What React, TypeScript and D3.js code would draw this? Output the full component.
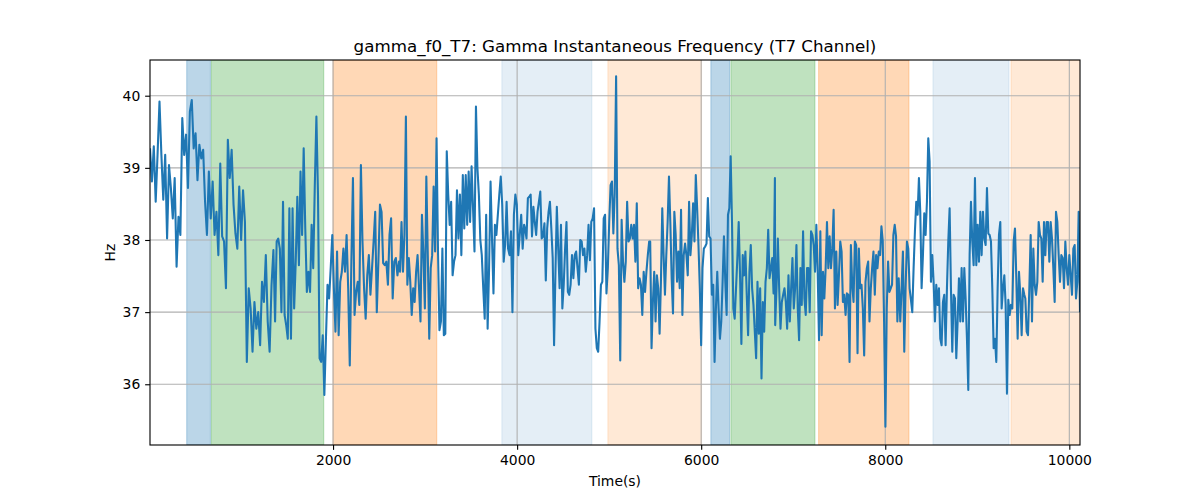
import { useEffect, useRef } from 'react';
import * as d3 from 'd3';

const TITLE = 'gamma_f0_T7: Gamma Instantaneous Frequency (T7 Channel)';
const X_LABEL = 'Time(s)';
const Y_LABEL = 'Hz';
const xTicks = [2000, 4000, 6000, 8000, 10000];
const yTicks = [36, 37, 38, 39, 40];
const xDomain: [number, number] = [11, 10116];
const yDomain: [number, number] = [35.158, 40.495];

// shaded event windows
const spanStart = [410, 678, 2000, 3834, 4986, 6105, 6323, 7276, 8518, 9366];
const spanEnd = [667, 1899, 3127, 4812, 6004, 6309, 7236, 8258, 9345, 10130];
const spanColor = ['#1f77b4', '#2ca02c', '#ff7f0e', '#1f77b4', '#ff7f0e', '#1f77b4', '#2ca02c', '#ff7f0e', '#1f77b4', '#ff7f0e'];
const spanAlpha = [0.3, 0.3, 0.3, 0.12, 0.17, 0.3, 0.3, 0.3, 0.12, 0.17];

// the trace, read piece by piece (time range of each piece + its samples)
const segStart = [11, 1370, 2728, 4087, 5446, 6804, 8163, 9522];
const segEnd = [1352, 2717, 4076, 5435, 6801, 8146, 9511, 10116];

const seg1 = [39.27, 38.81, 39.30, 38.53, 39.20, 39.92, 39.18, 38.56, 39.18, 38.02, 39.04, 38.72, 38.30, 38.86, 37.63, 38.32, 38.07, 39.69, 39.18, 39.46, 38.72, 39.78, 39.94, 39.27, 39.48, 38.83, 39.32, 39.13, 39.25, 38.53, 38.07, 38.95, 38.30, 38.81, 38.07, 38.39, 37.79, 39.06, 38.05, 37.98, 37.33, 39.39, 38.86, 39.25, 38.49, 38.09, 37.88, 38.74, 38.00, 38.69, 38.25, 36.31, 37.33, 37.05, 36.45, 37.14, 36.77, 37.00, 36.54, 37.42, 37.14, 37.79, 36.87, 36.45, 37.37, 37.86];
const seg2 = [36.87, 37.98, 38.02, 37.88, 37.00, 38.53, 36.96, 36.82, 36.63, 38.44, 36.63, 38.44, 37.05, 37.70, 38.60, 37.65, 38.95, 38.07, 39.27, 38.16, 37.28, 37.56, 37.28, 38.21, 37.61, 38.76, 39.71, 38.63, 36.36, 36.31, 36.68, 35.85, 36.63, 37.38, 37.19, 37.61, 38.07, 37.33, 36.73, 37.84, 36.68, 37.42, 37.56, 37.88, 37.56, 38.07, 37.33, 36.26, 37.70, 38.86, 36.96, 37.28, 37.42, 37.10, 39.04, 37.98, 37.33, 36.91, 37.51, 37.79, 37.24, 37.61, 37.98, 38.39, 37.00, 37.70, 38.49, 38.39, 37.68, 37.65, 37.70, 37.38, 38.07, 38.30, 37.19, 37.70, 37.75, 37.51, 37.70];
const seg3 = [37.56, 38.25, 37.56, 38.07, 39.71, 37.38, 37.75, 37.42, 36.96, 37.33, 37.14, 37.56, 37.79, 37.33, 36.87, 38.35, 37.79, 37.05, 38.88, 37.79, 36.63, 37.61, 37.79, 38.74, 37.84, 39.41, 37.84, 36.75, 36.87, 37.88, 36.68, 36.70, 39.23, 38.63, 38.21, 38.53, 37.51, 37.70, 37.79, 38.69, 38.02, 38.63, 37.79, 38.90, 38.16, 38.90, 38.21, 38.95, 38.25, 39.02, 38.44, 37.84, 39.85, 39.00, 38.63, 38.00, 37.79, 37.33, 36.91, 38.35, 36.77, 37.61, 38.81, 38.02, 37.26, 38.21, 38.07, 38.35, 38.63, 38.88, 38.49, 37.70, 37.94, 38.53, 37.88, 37.79, 38.12, 37.00, 38.35, 38.63, 38.49, 37.79, 38.07, 38.35, 37.88, 38.21];
const seg4 = [38.16, 38.02, 38.58, 38.60, 38.63, 38.05, 38.46, 38.25, 38.07, 38.39, 38.53, 38.67, 38.02, 38.05, 38.23, 37.44, 38.16, 38.39, 38.53, 38.16, 37.75, 36.54, 37.56, 38.46, 37.88, 37.33, 38.21, 37.05, 37.38, 37.88, 38.25, 37.28, 37.24, 37.38, 37.79, 37.47, 37.79, 37.84, 37.61, 37.38, 38.00, 37.98, 37.79, 37.88, 37.56, 37.79, 38.21, 37.72, 38.25, 38.30, 38.44, 36.77, 36.50, 36.45, 36.87, 37.38, 37.42, 38.30, 38.35, 37.26, 37.61, 38.25, 38.76, 38.81, 38.09, 38.65, 40.27, 37.88, 37.65, 36.33, 38.28, 37.70, 37.42, 37.70, 38.53, 37.98, 38.02, 38.21, 38.02, 38.21, 37.70, 38.51, 37.33, 37.47, 37.38, 36.96, 37.56, 37.28, 37.56, 37.79, 37.98];
const seg5 = [37.98, 36.50, 37.14, 37.56, 36.87, 37.51, 37.33, 36.70, 37.42, 38.44, 37.79, 37.24, 37.79, 38.25, 38.88, 38.25, 37.47, 36.98, 38.39, 38.07, 37.42, 37.84, 37.33, 38.42, 36.96, 37.79, 37.95, 37.79, 37.51, 38.53, 37.79, 38.05, 38.51, 37.98, 38.90, 38.44, 37.93, 37.33, 36.54, 37.61, 37.88, 37.91, 37.95, 38.58, 38.05, 38.02, 37.24, 37.38, 36.31, 37.05, 37.56, 37.05, 36.63, 36.87, 37.42, 38.05, 37.42, 36.96, 38.35, 38.44, 39.16, 38.25, 37.05, 36.91, 37.33, 37.75, 38.25, 37.51, 36.56, 37.79, 37.51, 37.84, 37.24, 36.68, 37.56, 37.93, 37.33, 37.10, 36.73, 36.36, 37.42, 36.70, 37.33, 36.08, 37.14, 36.73, 37.42, 37.61, 38.14, 37.47, 37.61, 37.75, 37.26, 38.86];
const seg6 = [36.82, 37.33, 38.02, 37.33, 36.77, 37.14, 37.24, 37.33, 37.14, 36.77, 37.51, 36.87, 37.33, 37.75, 37.05, 37.33, 37.93, 37.05, 36.61, 37.61, 37.10, 38.12, 37.19, 36.96, 37.61, 37.61, 37.00, 38.12, 38.07, 37.93, 37.56, 38.21, 37.56, 36.61, 38.12, 36.68, 37.56, 37.19, 37.61, 38.25, 37.61, 38.05, 37.61, 37.88, 38.42, 37.05, 37.84, 37.10, 37.51, 37.98, 37.84, 37.14, 37.24, 36.96, 37.26, 37.24, 36.31, 37.93, 37.38, 37.14, 37.98, 37.93, 36.43, 37.88, 37.33, 37.38, 37.05, 36.40, 37.42, 37.61, 37.70, 36.87, 37.33, 37.61, 37.84, 37.24, 37.79, 37.61, 37.84, 37.79, 38.19, 37.98, 36.87, 35.41, 37.05, 37.70, 37.28, 37.33, 37.38, 38.07, 38.21, 38.05, 36.87, 37.47];
const seg7 = [36.87, 37.33, 37.84, 36.45, 37.33, 37.98, 37.88, 37.33, 37.17, 37.00, 37.61, 38.12, 38.53, 38.35, 38.86, 38.39, 37.33, 37.79, 38.37, 38.07, 38.53, 39.41, 39.09, 37.42, 37.79, 37.42, 36.87, 37.38, 37.10, 37.33, 36.63, 36.54, 37.14, 37.24, 36.54, 37.33, 37.98, 38.44, 37.33, 36.45, 37.24, 37.19, 36.36, 36.87, 37.47, 36.87, 37.61, 36.87, 37.61, 37.19, 36.63, 35.92, 37.79, 38.53, 37.98, 37.65, 38.86, 37.65, 38.21, 37.70, 38.39, 37.79, 38.39, 38.02, 37.93, 38.72, 38.09, 38.07, 37.98, 37.33, 36.50, 36.63, 36.31, 37.33, 38.07, 38.25, 37.05, 37.33, 37.51, 37.10, 35.87, 37.17, 36.96, 37.10, 37.05, 37.98, 38.16, 37.47, 36.63, 37.56, 37.24, 36.68, 37.33, 37.24];
const seg8 = [37.19, 36.73, 36.68, 37.33, 38.07, 36.87, 37.88, 37.38, 37.24, 37.42, 38.25, 38.07, 38.02, 37.42, 38.25, 37.79, 38.25, 38.25, 37.70, 38.25, 38.02, 37.61, 37.14, 38.39, 38.25, 37.79, 37.42, 37.79, 37.75, 37.33, 37.98, 37.61, 37.38, 37.79, 37.51, 37.24, 37.88, 37.93, 37.19, 37.42, 38.39, 37.00];
const segments = [seg1, seg2, seg3, seg4, seg5, seg6, seg7, seg8];

const W = 1200;
const H = 500;
const margin = { top: 60, right: 120, bottom: 55, left: 150 };
const FONT = 'DejaVu Sans, sans-serif';
const PT = 100 / 72; // matplotlib points -> px at 100 dpi

export default function App() {
    const svgRef = useRef<SVGSVGElement>(null);

    useEffect(() => {
        if (!svgRef.current) return;
        const svg = d3.select(svgRef.current);
        svg.selectAll('*').remove();

        const innerW = W - margin.left - margin.right;
        const innerH = H - margin.top - margin.bottom;

        const data: [number, number][] = [];
        segments.forEach((seg, k) => {
            const t0 = segStart[k];
            const t1 = segEnd[k];
            seg.forEach((v, i) => data.push([t0 + (t1 - t0) * i / (seg.length - 1), v]));
        });

        const x = d3.scaleLinear().domain(xDomain).range([0, innerW]);
        const y = d3.scaleLinear().domain(yDomain).range([innerH, 0]);

        svg.append('defs')
            .append('clipPath')
            .attr('id', 'plot-clip')
            .append('rect')
            .attr('width', innerW)
            .attr('height', innerH);

        const g = svg.append('g').attr('transform', `translate(${margin.left},${margin.top})`);

        // spans
        const spans = g.append('g').attr('clip-path', 'url(#plot-clip)');
        spanStart.forEach((s, i) => {
            spans.append('rect')
                .attr('x', x(s))
                .attr('y', 0)
                .attr('width', x(spanEnd[i]) - x(s))
                .attr('height', innerH)
                .attr('fill', spanColor[i])
                .attr('fill-opacity', spanAlpha[i])
                .attr('stroke', spanColor[i])
                .attr('stroke-opacity', spanAlpha[i])
                .attr('stroke-width', 1);
        });

        // grid
        g.append('g').selectAll('line').data(xTicks).join('line')
            .attr('x1', d => x(d)).attr('x2', d => x(d))
            .attr('y1', 0).attr('y2', innerH)
            .attr('stroke', '#b0b0b0').attr('stroke-width', 0.8 * PT);
        g.append('g').selectAll('line').data(yTicks).join('line')
            .attr('y1', d => y(d)).attr('y2', d => y(d))
            .attr('x1', 0).attr('x2', innerW)
            .attr('stroke', '#b0b0b0').attr('stroke-width', 0.8 * PT);

        const line = d3.line<[number, number]>()
            .x(d => x(d[0]))
            .y(d => y(d[1]));

        g.append('path')
            .datum(data)
            .attr('d', line)
            .attr('fill', 'none')
            .attr('stroke', '#1f77b4')
            .attr('stroke-width', 1.5 * PT)
            .attr('stroke-linejoin', 'round')
            .attr('clip-path', 'url(#plot-clip)');

        const xAxis = d3.axisBottom(x).tickValues(xTicks).tickFormat(d3.format('d')).tickSize(3.5 * PT).tickPadding(3.5 * PT);
        const yAxis = d3.axisLeft(y).tickValues(yTicks).tickFormat(d3.format('d')).tickSize(3.5 * PT).tickPadding(3.5 * PT);

        const gx = g.append('g').attr('transform', `translate(0,${innerH})`).call(xAxis);
        const gy = g.append('g').call(yAxis);
        [gx, gy].forEach(a => {
            a.select('.domain').remove();
            a.selectAll('line').attr('stroke', '#000').attr('stroke-width', 0.8 * PT);
            a.selectAll('text').attr('font-family', FONT).attr('font-size', 13.9).attr('fill', '#000');
        });

        g.append('rect')
            .attr('width', innerW)
            .attr('height', innerH)
            .attr('fill', 'none')
            .attr('stroke', '#000')
            .attr('stroke-width', 0.8 * PT);

        svg.append('text')
            .attr('x', margin.left + innerW / 2)
            .attr('y', 52)
            .attr('text-anchor', 'middle')
            .attr('font-family', FONT)
            .attr('font-size', 16.7)
            .text(TITLE);

        svg.append('text')
            .attr('x', margin.left + innerW / 2)
            .attr('y', 486)
            .attr('text-anchor', 'middle')
            .attr('font-family', FONT)
            .attr('font-size', 13.9)
            .text(X_LABEL);

        svg.append('text')
            .attr('transform', `translate(115,${margin.top + innerH / 2}) rotate(-90)`)
            .attr('text-anchor', 'middle')
            .attr('font-family', FONT)
            .attr('font-size', 13.9)
            .text(Y_LABEL);
    }, []);

    return (
        <svg ref={svgRef} width={W} height={H} style={{ position: 'absolute', left: 0, top: 0, background: '#fff' }}></svg>
    );
}
